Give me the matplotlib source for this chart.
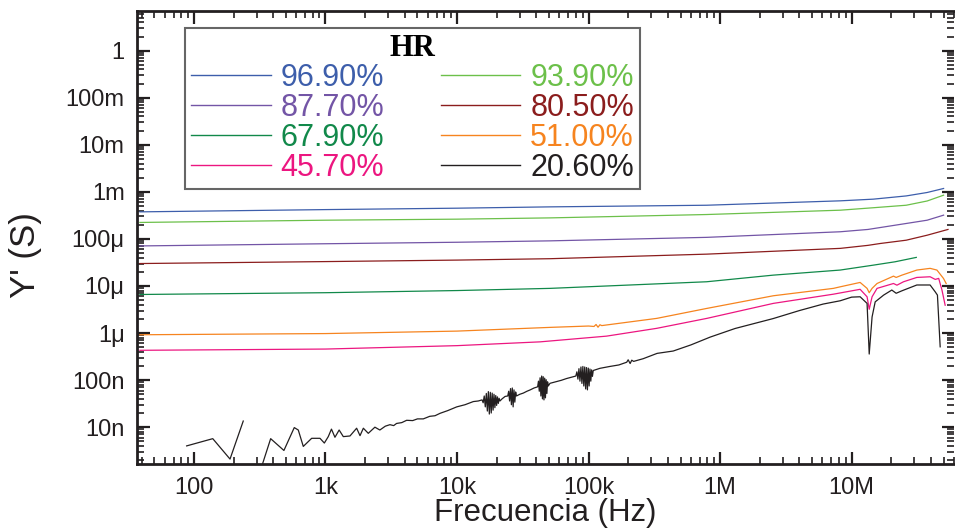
import numpy as np
import matplotlib
matplotlib.use("Agg")
import matplotlib.pyplot as plt
from matplotlib.ticker import LogLocator, FuncFormatter, NullFormatter
from matplotlib.font_manager import FontProperties

plt.rcParams['font.family'] = ['Liberation Sans', 'DejaVu Sans']

# Relative humidity of each sweep and its line colour
hr_labels = ["96.90%", "93.90%", "87.70%", "80.50%", "67.90%", "51.00%", "45.70%", "20.60%"]
hr_colors = ["#3d5eab", "#6cc04a", "#7355a6", "#8b1d1d", "#11894a", "#f6841f", "#ec1680", "#231f20"]

# Frequency (Hz) and real admittance Y' (S) for each humidity
f_969 = [38.8, 1e3, 1e4, 5.1e4, 7.9e5, 8.2e6, 1.46e7, 2.6e7, 3.75e7, 5.0e7]
y_969 = [3.76e-4, 4.2e-4, 4.5e-4, 4.8e-4, 5.2e-4, 6.45e-4, 7.0e-4, 8.2e-4, 9.7e-4, 1.18e-3]

f_939 = [38.8, 1e3, 1e4, 5.1e4, 7.9e5, 8.2e6, 1.46e7, 2.6e7, 3.75e7, 5.0e7]
y_939 = [2.24e-4, 2.5e-4, 2.63e-4, 2.8e-4, 3.3e-4, 4.08e-4, 4.6e-4, 5.2e-4, 6.4e-4, 8.5e-4]

f_877 = [38.8, 1e3, 1e4, 5.1e4, 7.9e5, 8.2e6, 1.33e7, 2.6e7, 3.75e7, 5.0e7]
y_877 = [7.1e-5, 7.9e-5, 8.5e-5, 9.1e-5, 1.08e-4, 1.42e-4, 1.59e-4, 2.13e-4, 2.5e-4, 3.2e-4]

f_805 = [38.8, 1e3, 1e4, 5.1e4, 7.9e5, 8.2e6, 1.33e7, 1.65e7, 2.6e7, 3.75e7, 5.4e7]
y_805 = [3.0e-5, 3.3e-5, 3.55e-5, 3.8e-5, 4.75e-5, 6.3e-5, 7.3e-5, 8.0e-5, 9.4e-5, 1.2e-4, 1.59e-4]

f_679 = [38.8, 1e3, 1e4, 5.1e4, 7.9e5, 2.53e6, 8.18e6, 1.47e7, 2.14e7, 3.1e7]
y_679 = [6.6e-6, 7.2e-6, 8.0e-6, 8.9e-6, 1.23e-5, 1.7e-5, 2.18e-5, 2.78e-5, 3.27e-5, 4.05e-5]

f_510 = [38.8, 1e3, 1e4, 5.1e4, 1e5, 1.1e5, 1.14e5, 1.18e5, 1.22e5, 1.26e5, 3.3e5, 7.93e5,
         2.54e6, 7.27e6, 8.18e6, 1.16e7, 1.31e7, 1.36e7, 1.43e7, 1.56e7, 2.08e7, 2.18e7,
         2.41e7, 3.13e7, 3.95e7, 4.45e7, 4.99e7, 5.23e7]
y_510 = [9.2e-7, 9.75e-7, 1.1e-6, 1.32e-6, 1.41e-6, 1.38e-6, 1.52e-6, 1.33e-6, 1.5e-6, 1.44e-6,
         2.05e-6, 3.34e-6, 6.2e-6, 8.9e-6, 9.6e-6, 1.19e-5, 8.9e-6, 7.2e-6, 8.9e-6, 1.13e-5,
         1.62e-5, 1.52e-5, 1.7e-5, 2.18e-5, 2.37e-5, 2.18e-5, 1.45e-5, 1.13e-5]

f_457 = [38.8, 1e3, 1e4, 4.28e4, 1.37e5, 3.3e5, 7.93e5, 2.54e6, 7.27e6, 1.16e7, 1.31e7, 1.36e7,
         1.43e7, 1.56e7, 2.08e7, 2.21e7, 2.48e7, 3.13e7, 3.95e7, 4.32e7, 4.59e7, 4.86e7, 5.14e7]
y_457 = [4.3e-7, 4.57e-7, 5.4e-7, 6.5e-7, 8.6e-7, 1.26e-6, 2.05e-6, 4.27e-6, 6.7e-6, 8.5e-6,
         5.9e-6, 3.2e-6, 5.9e-6, 8.9e-6, 1.13e-5, 1.04e-5, 1.23e-5, 1.52e-5, 1.57e-5, 1.38e-5,
         1.45e-5, 8.2e-6, 3.9e-6]

f_206 = [88, 139, 188, 237, 260, 320, 383, 483, 579, 621, 678, 785, 908, 980, 1050, 1110, 1180,
         1270, 1366, 1535, 1725, 1830, 1940, 2115, 2375, 2590, 2850, 3090, 3300, 3470, 3800,
         4140, 4600, 5000, 5540, 6200, 6800, 7430, 8500, 9950, 11500, 13300, 14500,
         15500, 15800, 16100, 16400, 16700, 17000, 17300, 17600, 17900, 18200, 18500, 18800,
         19100, 19400, 19700, 20000, 20300, 20600, 20900, 21200,
         22000, 23200,
         24300, 24700, 25100, 25500, 25900, 26300, 26700, 27100, 27500, 27900, 28300,
         30000, 31900, 34000, 36000, 38500,
         41000, 41600, 42200, 42800, 43400, 44000, 44600, 45200, 45800, 46400, 47000,
         47600, 48200, 48800, 49400,
         50900, 56000, 62000, 68000, 76200,
         80000, 81500, 83000, 84500, 86000, 87500, 89000, 90500, 92000, 93500, 95000,
         96500, 98000, 99500, 101000, 102500, 104000, 105500, 107000, 108500,
         122000, 145000, 170000, 195000, 200000, 207000, 213000, 220000, 260000, 332000,
         440000, 600000, 840000,
         1.3e6, 2.53e6, 4.0e6, 6.07e6, 8.18e6, 1.0e7, 1.16e7, 1.31e7, 1.36e7, 1.43e7, 1.51e7,
         1.75e7, 2.02e7, 2.18e7, 2.41e7, 3.13e7, 3.95e7, 4.32e7, 4.49e7, 4.71e7]
y_206 = [4.0e-9, 5.7e-9, 2.1e-9, 1.35e-8, np.nan, 1.2e-9, 5.7e-9, 3.2e-9, 9.8e-9, 8.7e-9, 3.9e-9,
         5.8e-9, 5.8e-9, 4.6e-9, 6.3e-9, 9.1e-9, 6.1e-9, 8.7e-9, 6.3e-9, 6.5e-9, 9.5e-9, 6.6e-9,
         9.5e-9, 7.4e-9, 1.0e-8, 8.7e-9, 1.05e-8, 1.13e-8, 1.08e-8, 1.2e-8, 1.25e-8,
         1.4e-8, 1.38e-8, 1.5e-8, 1.5e-8, 1.7e-8, 1.75e-8, 1.97e-8, 2.25e-8, 2.7e-8, 3.0e-8,
         3.5e-8, 3.6e-8,
         3.8e-8, 3.3e-8, 4.6e-8, 2.7e-8, 5.2e-8, 2.2e-8, 5.7e-8, 1.9e-8, 5.5e-8, 2.0e-8, 5.3e-8,
         2.3e-8, 5.0e-8, 2.6e-8, 4.7e-8, 2.9e-8, 4.4e-8, 3.2e-8, 4.1e-8, 3.6e-8,
         4.0e-8, 4.5e-8,
         4.6e-8, 5.8e-8, 3.6e-8, 6.6e-8, 3.0e-8, 6.8e-8, 2.7e-8, 6.2e-8, 3.4e-8, 5.6e-8, 4.6e-8,
         5.0e-8, 5.3e-8, 5.8e-8, 6.2e-8, 6.8e-8,
         7.2e-8, 9.5e-8, 5.8e-8, 1.12e-7, 4.6e-8, 1.22e-7, 4.0e-8, 1.18e-7, 3.8e-8, 1.1e-7,
         4.2e-8, 1.02e-7, 5.2e-8, 9.2e-8, 7.5e-8,
         8.55e-8, 9.2e-8, 9.9e-8, 1.08e-7, 1.18e-7,
         1.22e-7, 1.5e-7, 1.05e-7, 1.75e-7, 9.5e-8, 1.9e-7, 8.5e-8, 1.95e-7, 7.5e-8, 1.9e-7,
         6.5e-8, 1.85e-7, 6.2e-8, 1.8e-7, 7.5e-8, 1.72e-7, 9.5e-8, 1.65e-7, 1.2e-7, 1.6e-7,
         1.78e-7, 1.95e-7, 2.1e-7, 2.4e-7, 2.7e-7, 2.25e-7, 2.65e-7, 2.5e-7, 2.85e-7, 3.7e-7,
         4.15e-7, 5.6e-7, 8.2e-7,
         1.25e-6, 2.03e-6, 3.0e-6, 4.13e-6, 4.85e-6, 5.8e-6, 5.9e-6, 4.27e-6, 3.58e-7, 2.2e-6,
         4.6e-6, 6.4e-6, 8.2e-6, 7.0e-6, 7.9e-6, 1.05e-5, 1.05e-5, 7.5e-6, 6.4e-6, 5.1e-7]

series_f = [f_969, f_939, f_877, f_805, f_679, f_510, f_457, f_206]
series_y = [y_969, y_939, y_877, y_805, y_679, y_510, y_457, y_206]

x_tick_labels = {2: "100", 3: "1k", 4: "10k", 5: "100k", 6: "1M", 7: "10M"}
y_tick_labels = {0: "1", -1: "100m", -2: "10m", -3: "1m", -4: "100\u03bc", -5: "10\u03bc",
                 -6: "1\u03bc", -7: "100n", -8: "10n"}

W, H = 955, 529
fig = plt.figure(figsize=(W / 100, H / 100), dpi=100)
ax = fig.add_axes([137 / W, (H - 464) / H, (954 - 137) / W, (464 - 11) / H])

lines = []
for f, y, c, lab in zip(series_f, series_y, hr_colors, hr_labels):
    ln, = ax.plot(f, y, color=c, lw=0.9, label=lab)
    lines.append(ln)

ax.set_xscale("log")
ax.set_yscale("log")
ax.set_xlim(36.9, 6.0e7)
ax.set_ylim(1.65e-9, 6.97)


def fmt_factory(table):
    def fmt(v, pos):
        e = int(round(np.log10(v)))
        return table.get(e, "")
    return fmt


ax.xaxis.set_major_locator(LogLocator(base=10, numticks=20))
ax.yaxis.set_major_locator(LogLocator(base=10, numticks=20))
ax.xaxis.set_minor_locator(LogLocator(base=10, subs=np.arange(2, 10), numticks=20))
ax.yaxis.set_minor_locator(LogLocator(base=10, subs=np.arange(2, 10), numticks=20))
ax.xaxis.set_major_formatter(FuncFormatter(fmt_factory(x_tick_labels)))
ax.yaxis.set_major_formatter(FuncFormatter(fmt_factory(y_tick_labels)))
ax.xaxis.set_minor_formatter(NullFormatter())
ax.yaxis.set_minor_formatter(NullFormatter())

ax.tick_params(which="both", direction="in", top=True, right=True, colors="#231f20",
               labelcolor="#231f20")
ax.tick_params(which="major", length=9, width=1.6, labelsize=17, pad=9)
ax.tick_params(which="minor", length=5, width=1.2)
for side in ["left", "bottom", "top"]:
    ax.spines[side].set_linewidth(2.0)
    ax.spines[side].set_color("#231f20")
ax.spines["right"].set_visible(False)

ax.set_xlabel("Frecuencia (Hz)", fontsize=22.5, color="#231f20", labelpad=0)
ax.set_ylabel("Y' (S)", fontsize=25, color="#231f20")
ax.yaxis.set_label_coords((42 - 137) / 817, (464 - 255) / 453)

order = [0, 2, 4, 6, 1, 3, 5, 7]
leg = ax.legend([lines[i] for i in order], [hr_labels[i] for i in order], ncol=2,
                loc="upper left",
                bbox_to_anchor=((185 - 137) / 817, (464 - 28) / 453, (640 - 185) / 817, 0.0),
                mode="expand", borderaxespad=0, fontsize=22, labelcolor="linecolor",
                handlelength=2.6, handletextpad=0.32, columnspacing=1.0, labelspacing=0.0,
                borderpad=0.2, fancybox=False, framealpha=1, edgecolor="#666666",
                title="HR",
                title_fontproperties=FontProperties(family="Liberation Serif", weight="bold",
                                                    size=22))
leg.get_frame().set_linewidth(1.5)
for h in leg.legend_handles:
    h.set_linewidth(1.0)

fig.savefig("out.png", dpi=100)
